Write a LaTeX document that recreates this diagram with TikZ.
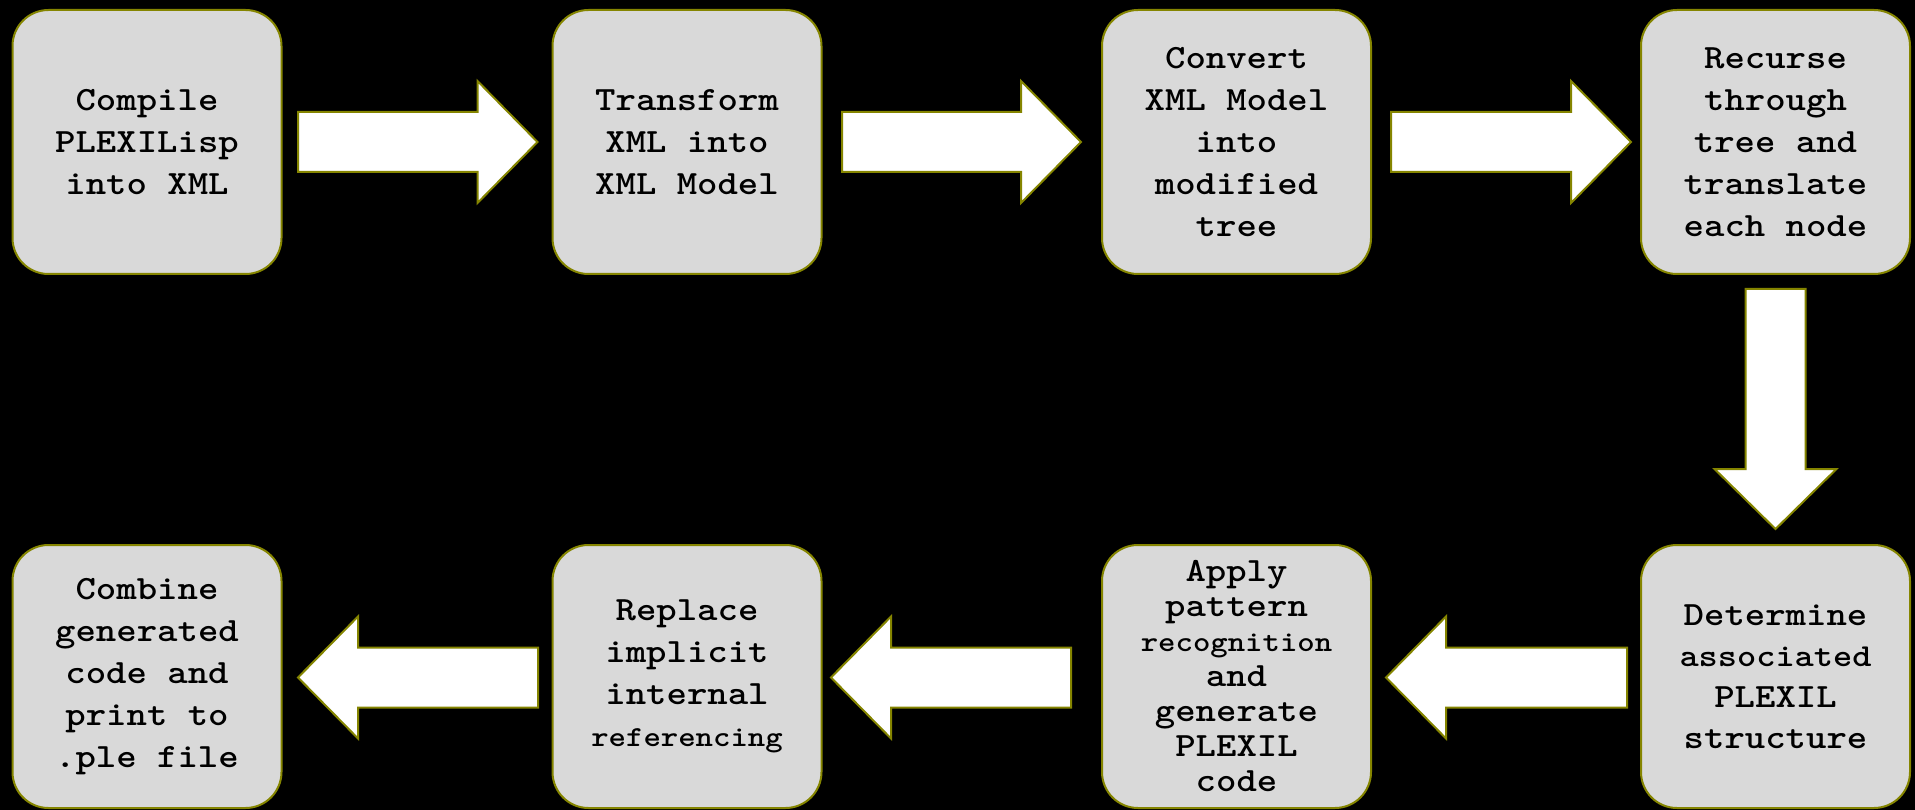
\documentclass[tikz,border=0pt]{standalone}
\usepackage{fontspec}
\newfontfamily\slabmono{lmmonolt10-bold}[Extension=.otf, FakeStretch=1.143]
\usetikzlibrary{calc}
\definecolor{boxfill}{HTML}{D9D9D9}
\definecolor{edge}{HTML}{858500}

\tikzset{
  stepbox/.style={draw=edge, line width=2pt, fill=boxfill, rounded corners=36pt,
    minimum width=269pt, minimum height=264pt, align=center, inner sep=0pt,
    font=\slabmono\fontsize{34}{42}\selectfont, text=black},
  blockarrow/.style={draw=edge, line width=2pt, fill=white, line join=miter}
}

% block arrow from tail #1 to tip #2
\newcommand\flowarrow[2]{%
  \coordinate (fa-h) at ($(#2)!60pt!(#1)$);
  \draw[blockarrow] ($(#1)!30pt!90:(#2)$) -- ($(fa-h)!30pt!90:(#2)$)
    -- ($(fa-h)!61pt!90:(#2)$) -- (#2) -- ($(fa-h)!61pt!-90:(#2)$)
    -- ($(fa-h)!30pt!-90:(#2)$) -- ($(#1)!30pt!-90:(#2)$) -- cycle;}

\begin{document}
\begin{tikzpicture}[x=1pt,y=-1pt]
\fill[black] (0,0) rectangle (1915,810);
\useasboundingbox (0,0) rectangle (1915,810);

% top row
\node[stepbox] (b1) at (147,142) {Compile\\PLEXILisp\\into XML};
\node[stepbox] (b2) at (687,142) {Transform\\XML into\\XML Model};
\node[stepbox] (b3) at (1236.5,142) {Convert\\XML Model\\into\\modified\\tree};
\node[stepbox] (b4) at (1775.5,142) {Recurse\\through\\tree and\\translate\\each node};

% bottom row
\node[stepbox, minimum height=263pt] (b5) at (147,676.5) {Combine\\generated\\code and\\print to\\.ple file};
\node[stepbox, minimum height=263pt] (b6) at (687,676.5) {Replace\\implicit\\internal\\{\fontsize{29}{39}\selectfont referencing}};
\node[stepbox, minimum height=263pt, font=\slabmono\fontsize{34}{35}\selectfont] (b7) at (1236.5,676.5)
  {Apply\\pattern\\{\fontsize{29}{35}\selectfont recognition}\\and\\generate\\PLEXIL\\code};
\node[stepbox, minimum height=263pt, font=\slabmono\fontsize{34}{41}\selectfont] (b8) at (1775.5,676.5)
  {Determine\\{\fontsize{32}{41}\selectfont associated}\\PLEXIL\\structure};

% connectors
\coordinate (t12) at ($(b1.east)+(15.5,0)$);  \coordinate (h12) at ($(b2.west)+(-14,0)$);
\coordinate (t23) at ($(b2.east)+(19.5,0)$);  \coordinate (h23) at ($(b3.west)+(-20,0)$);
\coordinate (t34) at ($(b3.east)+(19,0)$);    \coordinate (h34) at ($(b4.west)+(-9,0)$);
\coordinate (t48) at ($(b4.south)+(0,14)$);   \coordinate (h48) at ($(b8.north)+(0,-15)$);
\coordinate (t87) at ($(b8.west)+(-13,1)$);   \coordinate (h87) at ($(b7.east)+(14,1)$);
\coordinate (t76) at ($(b7.west)+(-30,1)$);   \coordinate (h76) at ($(b6.east)+(8.5,1)$);
\coordinate (t65) at ($(b6.west)+(-13.5,1)$); \coordinate (h65) at ($(b5.east)+(15.5,1)$);

\flowarrow{t12}{h12}
\flowarrow{t23}{h23}
\flowarrow{t34}{h34}
\flowarrow{t48}{h48}
\flowarrow{t87}{h87}
\flowarrow{t76}{h76}
\flowarrow{t65}{h65}
\end{tikzpicture}
\end{document}
